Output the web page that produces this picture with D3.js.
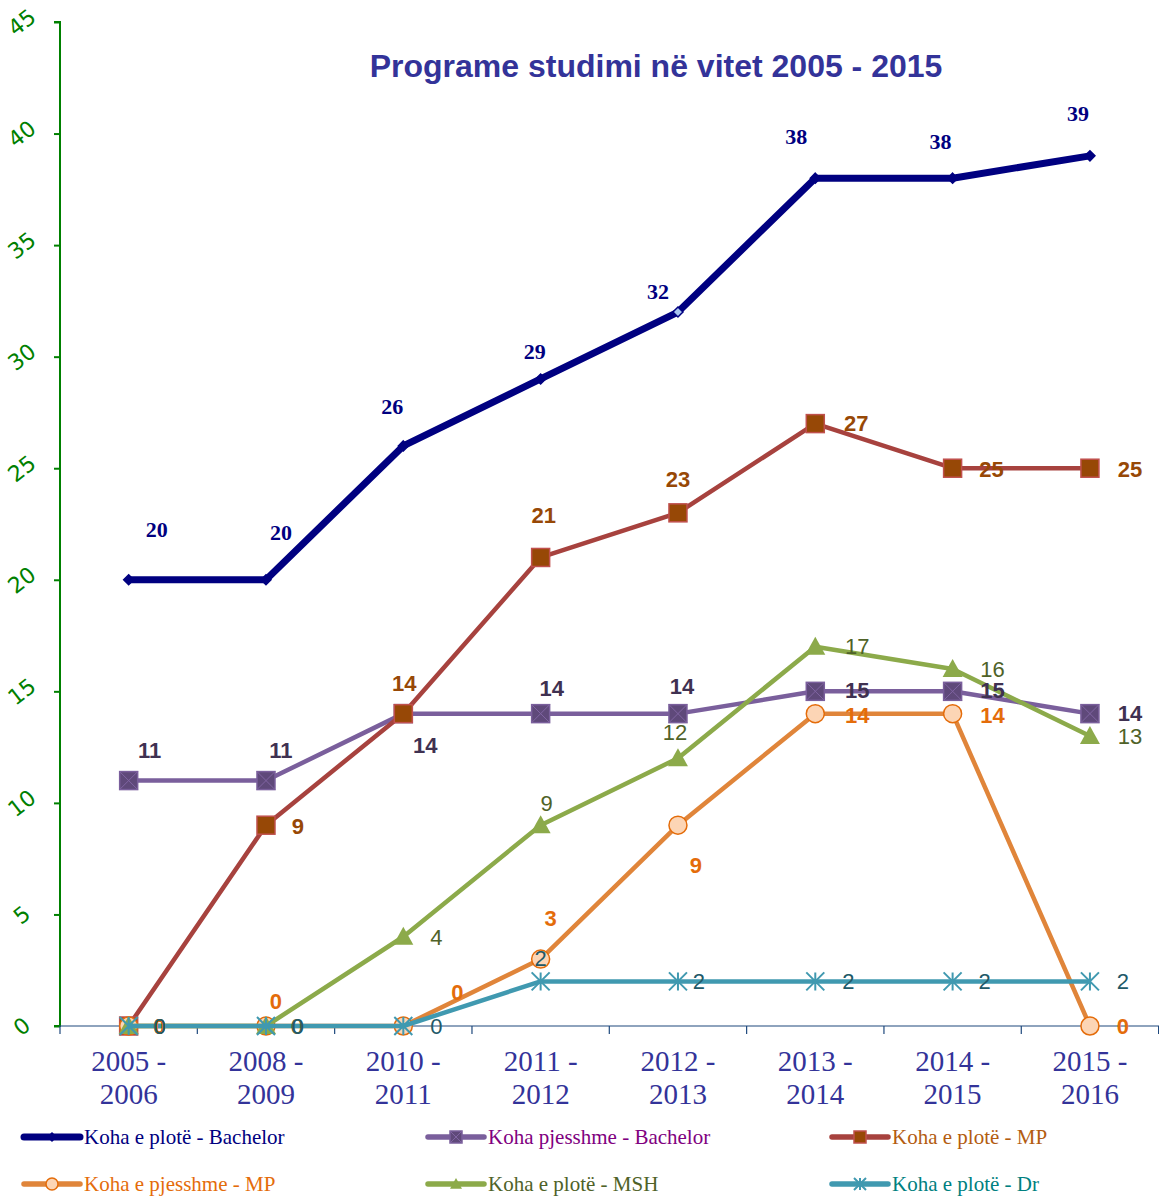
<!DOCTYPE html>
<html>
<head>
<meta charset="utf-8">
<script src="https://cdn.jsdelivr.net/npm/d3@7"></script>
<style>
  body { margin: 0; background: #fff; }
  svg { display: block; }
</style>
</head>
<body>
<div class="svg-wrap"></div>
<script>
const width = 1159;
const height = 1197;

// data
const years = ["2005 - 2006", "2008 - 2009", "2010 - 2011", "2011 - 2012",
               "2012 - 2013", "2013 - 2014", "2014 - 2015", "2015 - 2016"];
const seriesNames = ["Koha e plotë - Bachelor", "Koha pjesshme - Bachelor", "Koha e plotë - MP",
                     "Koha e pjesshme - MP", "Koha e plotë - MSH", "Koha e plotë - Dr"];
const bachelorFull = [20, 20, 26, 29, 32, 38, 38, 39];
const bachelorPart = [11, 11, 14, 14, 14, 15, 15, 14];
const mpFull = [0, 9, 14, 21, 23, 27, 25, 25];
const mpPart = [0, 0, 0, 3, 9, 14, 14, 0];
const mshFull = [0, 0, 4, 9, 12, 17, 16, 13];
const drFull = [0, 0, 0, 2, 2, 2, 2, 2];
const yTicks = [0, 5, 10, 15, 20, 25, 30, 35, 40, 45];

// label offsets (dx, dy) relative to each point
const labelOffsets = [
  [[28,-50],[15,-47],[-11,-39],[-6,-27],[-20,-21],[-19,-42],[-12,-37],[-12,-42]],
  [[21,-30],[15,-30],[22,32],[11,-25],[4,-27],[42,-1],[40,-1],[40,0]],
  [[31,0],[32,1],[1,-30],[3,-42],[0,-33],[41,0],[39,1],[40,1]],
  [[31,0],[10,-25],[54,-34],[10,-41],[18,40],[42,2],[40,2],[33,0]],
  [[31,0],[31,0],[33,1],[6,-22],[-3,-26],[42,0],[40,0],[40,1]],
  [[31,0],[32,0],[33,0],[0,-23],[21,0],[33,0],[32,0],[33,0]]
];

const styles = [
  { line: "#000080", width: 7, marker: "diamond", fill: "#000080", stroke: "#000080", size: 10,
    label: "#000080", font: "'Liberation Serif', 'Times New Roman', serif", weight: "bold", fs: 22, legend: "#000080" },
  { line: "#7a5f9c", width: 4.5, marker: "xsquare", fill: "#5f497a", stroke: "#7a5f9c", size: 18,
    label: "#3f3151", font: "'Liberation Sans', Arial, sans-serif", weight: "bold", fs: 22, legend: "#800080" },
  { line: "#a7423e", width: 4.5, marker: "square", fill: "#974806", stroke: "#c0504d", size: 18,
    label: "#974806", font: "'Liberation Sans', Arial, sans-serif", weight: "bold", fs: 22, legend: "#b35c10" },
  { line: "#e0853a", width: 4.5, marker: "circle", fill: "#fcd5b5", stroke: "#e46c0a", size: 18,
    label: "#e46c0a", font: "'Liberation Sans', Arial, sans-serif", weight: "bold", fs: 22, legend: "#e46c0a" },
  { line: "#8caa4a", width: 4.5, marker: "triangle", fill: "#8caa4a", stroke: "#8caa4a", size: 20,
    label: "#4f6228", font: "'Liberation Sans', Arial, sans-serif", weight: "normal", fs: 22, legend: "#4f6228" },
  { line: "#4099b0", width: 4.5, marker: "asterisk", fill: "none", stroke: "#4099b0", size: 18,
    label: "#215968", font: "'Liberation Sans', Arial, sans-serif", weight: "normal", fs: 22, legend: "#008080" }
];

const allSeries = [bachelorFull, bachelorPart, mpFull, mpPart, mshFull, drFull];

let svg = d3.select(".svg-wrap")
  .append("svg")
  .attr("width", width)
  .attr("height", height)
  .style("background-color", "white");

const x = d3.scaleBand().domain(years).range([60, 1158.6]);
const y = d3.scaleLinear().domain([0, 45]).range([1026, 22]);
const cx = d => x(d) + x.bandwidth() / 2;

// title
svg.append("text")
  .attr("x", 656)
  .attr("y", 77)
  .attr("text-anchor", "middle")
  .style("font-family", "'Liberation Sans', Arial, sans-serif")
  .style("font-weight", "bold")
  .style("font-size", "32px")
  .style("fill", "#333399")
  .text("Programe studimi në vitet 2005 - 2015");

// y axis
let yAxis = svg.append("g")
  .attr("transform", "translate(60,0)")
  .call(d3.axisLeft(y).tickValues(yTicks).tickSize(6).tickFormat(d3.format("d")));
yAxis.select(".domain").attr("stroke", "#008000").attr("stroke-width", 2).attr("d", "M-6," + y(45) + "H0V" + y(0) + "H-6");
yAxis.selectAll(".tick line").attr("stroke", "#008000").attr("stroke-width", 2);
yAxis.selectAll(".tick text")
  .attr("x", 0)
  .attr("dy", 0)
  .attr("text-anchor", "middle")
  .attr("dominant-baseline", "central")
  .attr("transform", "translate(-38,0) rotate(-38)")
  .style("font-family", "'DejaVu Sans', sans-serif")
  .style("font-size", "22px")
  .style("fill", "#008000");

// x axis
let xAxis = svg.append("g")
  .attr("transform", "translate(0,1026)")
  .call(d3.axisBottom(x).tickSize(0).tickFormat(""));
xAxis.select(".domain").attr("stroke", "#1f497d").attr("stroke-width", 1.2).attr("d", "M60,0H1159");
xAxis.selectAll(".bound")
  .data(d3.range(years.length + 1))
  .enter()
  .append("line")
  .attr("x1", i => 60 + i * x.step())
  .attr("x2", i => 60 + i * x.step())
  .attr("y1", 0)
  .attr("y2", 8)
  .attr("stroke", "#1f497d")
  .attr("stroke-width", 1.2);

svg.selectAll(".xlabel")
  .data(years)
  .enter()
  .append("text")
  .attr("class", "xlabel")
  .attr("text-anchor", "middle")
  .style("font-family", "'Liberation Serif', 'Times New Roman', serif")
  .style("font-size", "29px")
  .style("fill", "#333399")
  .each(function (d) {
    const parts = d.split(" - ");
    const t = d3.select(this);
    t.append("tspan").attr("x", cx(d)).attr("y", 1071).text(parts[0] + " -");
    t.append("tspan").attr("x", cx(d)).attr("y", 1104).text(parts[1]);
  });

function drawMarker(g, type, s, size, special) {
  const h = size / 2;
  if (type === "diamond") {
    g.append("path").attr("d", `M0,${-h}L${h},0L0,${h}L${-h},0Z`)
      .attr("fill", special ? "#a8c4f0" : s.fill).attr("stroke", s.stroke).attr("stroke-width", 1.5);
  } else if (type === "square" || type === "xsquare") {
    g.append("rect").attr("x", -h).attr("y", -h).attr("width", size).attr("height", size)
      .attr("fill", s.fill).attr("stroke", s.stroke).attr("stroke-width", 1.5);
    if (type === "xsquare") {
      g.append("path").attr("d", `M${-h},${-h}L${h},${h}M${h},${-h}L${-h},${h}`)
        .attr("stroke", "#8064a2").attr("stroke-width", 1);
    }
  } else if (type === "circle") {
    g.append("circle").attr("r", h).attr("fill", s.fill).attr("stroke", s.stroke).attr("stroke-width", 1.5);
  } else if (type === "triangle") {
    g.append("path").attr("d", `M0,${-h}L${h},${h * 0.8}L${-h},${h * 0.8}Z`).attr("fill", s.fill);
  } else if (type === "asterisk") {
    g.append("path")
      .attr("d", `M${-h},${-h}L${h},${h}M${h},${-h}L${-h},${h}M0,${-h}L0,${h}`)
      .attr("stroke", s.stroke).attr("stroke-width", 2);
  }
}

const line = d3.line().x((d, i) => cx(years[i])).y(d => y(d));

// lines + markers
allSeries.forEach((data, si) => {
  const s = styles[si];
  svg.append("path")
    .datum(data)
    .attr("d", line)
    .attr("fill", "none")
    .attr("stroke", s.line)
    .attr("stroke-width", s.width)
    .attr("stroke-linejoin", "round");
  svg.append("g").selectAll("g")
    .data(data)
    .enter()
    .append("g")
    .attr("transform", (d, i) => `translate(${cx(years[i])},${y(d)})`)
    .each(function (d, i) {
      drawMarker(d3.select(this), s.marker, s, s.size, si === 0 && i === 4);
    });
});

// labels
allSeries.forEach((data, si) => {
  const s = styles[si];
  svg.append("g").selectAll("text")
    .data(data)
    .enter()
    .append("text")
    .attr("x", (d, i) => cx(years[i]) + labelOffsets[si][i][0])
    .attr("y", (d, i) => y(d) + labelOffsets[si][i][1])
    .attr("text-anchor", "middle")
    .attr("dominant-baseline", "central")
    .style("font-family", s.font)
    .style("font-weight", s.weight)
    .style("font-size", s.fs + "px")
    .style("fill", s.label)
    .text(d => d);
});

// legend
const legendX = [24, 428, 832];
const legendY = [1137, 1184];
seriesNames.forEach((name, i) => {
  const s = styles[i];
  const lx = legendX[i % 3];
  const ly = legendY[Math.floor(i / 3)];
  const g = svg.append("g").attr("transform", `translate(${lx},${ly})`);
  g.append("line")
    .attr("x1", 0).attr("x2", 56).attr("y1", 0).attr("y2", 0)
    .attr("stroke", s.line)
    .attr("stroke-width", i === 0 ? 7 : 5.5)
    .attr("stroke-linecap", "round");
  const m = g.append("g").attr("transform", "translate(28,0)");
  drawMarker(m, s.marker, s, i === 0 ? 8 : 12, false);
  g.append("text")
    .attr("x", 60)
    .attr("y", 0)
    .attr("dominant-baseline", "central")
    .style("font-family", "'Liberation Serif', 'Times New Roman', serif")
    .style("font-size", "21px")
    .style("fill", s.legend)
    .text(name);
});
</script>
</body>
</html>
